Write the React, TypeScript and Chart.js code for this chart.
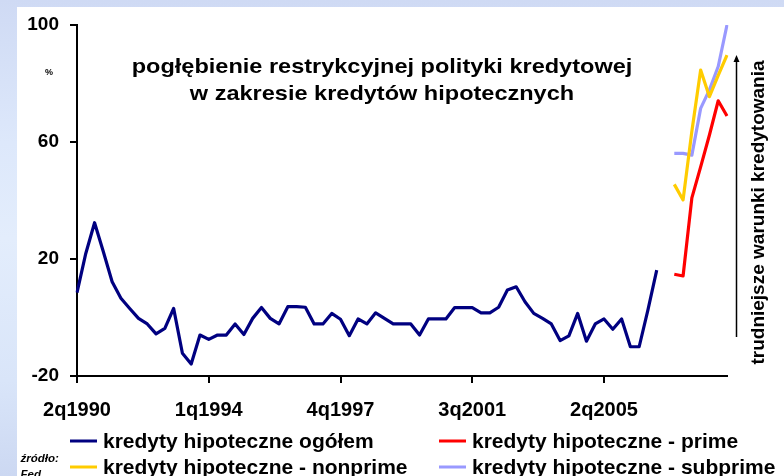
import React, { useEffect, useRef } from "react";
import { Chart, registerables } from "chart.js";

Chart.register(...registerables);

const FONT = "'Liberation Sans', Arial, Helvetica, sans-serif";

// Categories: quarters from 2q1990 to 4q2008
const FIRST_YEAR = 1990;
const FIRST_QUARTER = 2;
const QUARTER_COUNT = 75;
const quarters: string[] = [];
for (let i = 0; i < QUARTER_COUNT; i++) {
  const q0 = FIRST_QUARTER - 1 + i;
  quarters.push(`${(q0 % 4) + 1}q${FIRST_YEAR + Math.floor(q0 / 4)}`);
}

const xTickLabels = ["2q1990", "1q1994", "4q1997", "3q2001", "2q2005"];
const yTickValues = [-20, 20, 60, 100];

const seriesNames = [
  "kredyty hipoteczne ogółem",
  "kredyty hipoteczne - prime",
  "kredyty hipoteczne - nonprime",
  "kredyty hipoteczne - subprime",
];

// 2q1990 .. 4q2006
const ogolem = [
  8.5, 21.9, 32.4, 22.5, 12.2, 6.6, 3.1, -0.3, -2.2, -5.6,
  -3.7, 3.1, -12.2, -15.9, -6.0, -7.5, -6.0, -6.0, -2.2, -5.8,
  -0.3, 3.4, -0.3, -2.2, 3.7, 3.7, 3.5, -2.2, -2.2, 1.4,
  -0.6, -6.2, -0.5, -2.2, 1.6, -0.3, -2.2, -2.2, -2.2, -6.0,
  -0.5, -0.5, -0.5, 3.4, 3.4, 3.4, 1.6, 1.6, 3.5, 9.4,
  10.5, 5.4, 1.4, -0.3, -2.2, -7.9, -6.3, 1.4, -8.1, -2.2,
  -0.5, -4.0, -0.5, -10.0, -10.0, 2.6, 16.2,
];

// 2q2007 .. 4q2008
const SEGMENT_START = "2q2007";
const prime = [14.8, 14.2, 40.9, 51.5, 62.4, 74.1, 68.9];
const nonprime = [45.5, 40.2, 63.7, 84.6, 75.5, 82.8, 89.7];
const subprime = [56.1, 56.1, 55.5, 71.5, 77.8, 85.8, 100];

const titleLines = [
  "pogłębienie restrykcyjnej polityki kredytowej",
  "w zakresie kredytów hipotecznych",
];
const unitLabel = "%";
const arrowLabel = "trudniejsze warunki kredytowania";
const sourceLines = ["źródło:", "Fed"];

const colors = ["#000080", "#ff0000", "#ffcc00", "#9999ff"];

function placeFrom(startLabel: string, values: number[]): (number | null)[] {
  const start = quarters.indexOf(startLabel);
  return quarters.map((_, i) =>
    i >= start && i - start < values.length ? values[i - start] : null
  );
}

const overlayPlugin = {
  id: "overlay",
  afterDraw(chart: any) {
    const ctx: CanvasRenderingContext2D = chart.ctx;
    ctx.save();
    ctx.fillStyle = "#000";
    ctx.strokeStyle = "#000";

    // Title
    ctx.font = `bold 21px ${FONT}`;
    ctx.textAlign = "center";
    ctx.textBaseline = "alphabetic";
    titleLines.forEach((line, i) => {
      ctx.save();
      ctx.translate(382, 72.5 + i * 27.5);
      ctx.scale(1.12, 1);
      ctx.fillText(line, 0, 0);
      ctx.restore();
    });

    // unit
    ctx.font = `bold 9px ${FONT}`;
    ctx.textBaseline = "middle";
    ctx.fillText(unitLabel, 49, 73);

    // arrow
    ctx.lineWidth = 1.5;
    ctx.beginPath();
    ctx.moveTo(736.5, 337);
    ctx.lineTo(736.5, 60);
    ctx.stroke();
    ctx.beginPath();
    ctx.moveTo(736.5, 55);
    ctx.lineTo(733.5, 62);
    ctx.lineTo(739.5, 62);
    ctx.closePath();
    ctx.fill();

    // vertical text
    ctx.save();
    ctx.translate(763.5, 212.5);
    ctx.rotate(-Math.PI / 2);
    ctx.font = `bold 19px ${FONT}`;
    ctx.textAlign = "center";
    ctx.textBaseline = "alphabetic";
    ctx.fillText(arrowLabel, 0, 0);
    ctx.restore();

    // legend
    const slots = [
      { x: 70, y: 441 },
      { x: 439, y: 441 },
      { x: 70, y: 467 },
      { x: 439, y: 467 },
    ];
    ctx.font = `bold 21px ${FONT}`;
    ctx.textAlign = "left";
    ctx.textBaseline = "alphabetic";
    chart.data.datasets.forEach((ds: any, i: number) => {
      const s = slots[i];
      ctx.strokeStyle = ds.borderColor;
      ctx.lineWidth = 3;
      ctx.beginPath();
      ctx.moveTo(s.x, s.y);
      ctx.lineTo(s.x + 27, s.y);
      ctx.stroke();
      ctx.fillStyle = "#000";
      ctx.fillText(ds.label, s.x + 33, s.y + 7);
    });

    // source
    ctx.font = `italic bold 11.5px ${FONT}`;
    ctx.fillText(sourceLines[0], 20.5, 462);
    ctx.fillText(sourceLines[1], 20.5, 477.5);

    ctx.restore();
  },
};

export default function App() {
  const ref = useRef<HTMLCanvasElement>(null);

  useEffect(() => {
    if (!ref.current) return;
    const series = [
      placeFrom(quarters[0], ogolem),
      placeFrom(SEGMENT_START, prime),
      placeFrom(SEGMENT_START, nonprime),
      placeFrom(SEGMENT_START, subprime),
    ];
    const chart = new Chart(ref.current, {
      type: "line",
      data: {
        labels: quarters,
        datasets: series.map((data, i) => ({
          label: seriesNames[i],
          data,
          borderColor: colors[i],
          backgroundColor: colors[i],
          borderWidth: 3.2,
          pointRadius: 0,
          pointHoverRadius: 0,
          tension: 0,
          spanGaps: false,
          borderJoinStyle: "round" as const,
          fill: false,
        })),
      },
      options: {
        responsive: false,
        animation: false,
        devicePixelRatio: 1,
        layout: { padding: { left: 0, right: 57, top: 25, bottom: 0 } },
        plugins: {
          legend: { display: false },
          tooltip: { enabled: false },
          title: { display: false },
        },
        scales: {
          x: {
            type: "category",
            offset: false,
            grid: {
              display: true,
              drawOnChartArea: false,
              drawTicks: true,
              tickLength: 7,
              color: "#000",
              lineWidth: 2,
            },
            border: { display: true, color: "#000", width: 2 },
            ticks: {
              autoSkip: false,
              maxRotation: 0,
              minRotation: 0,
              color: "#000",
              padding: 15,
              font: { family: FONT, size: 20, weight: "bold" },
            },
            afterBuildTicks: (s: any) => {
              s.ticks = s.ticks.filter((t: any) =>
                xTickLabels.includes(quarters[t.value])
              );
            },
            afterFit: (s: any) => {
              s.height = 100;
            },
          },
          y: {
            min: yTickValues[0],
            max: yTickValues[yTickValues.length - 1],
            grid: {
              display: true,
              drawOnChartArea: false,
              drawTicks: true,
              tickLength: 7,
              color: "#000",
              lineWidth: 2,
            },
            border: { display: true, color: "#000", width: 2 },
            ticks: {
              color: "#000",
              padding: 11,
              font: { family: FONT, size: 19, weight: "bold" },
            },
            afterBuildTicks: (s: any) => {
              s.ticks = yTickValues.map((v) => ({ value: v }));
            },
            afterFit: (s: any) => {
              s.width = 77;
            },
          },
        },
      },
      plugins: [overlayPlugin],
    } as any);
    return () => chart.destroy();
  }, []);

  return (
    <div
      style={{
        position: "fixed",
        left: 0,
        top: 0,
        width: 784,
        height: 476,
        overflow: "hidden",
        background:
          "linear-gradient(to bottom, #cfdaf4 0%, #dde8fb 30%, #e3edfc 50%, #d9e5f9 80%, #ccd8f2 100%)",
      }}
    >
      <div
        style={{
          position: "absolute",
          left: 17,
          top: 7,
          right: 0,
          bottom: 0,
          background: "#ffffff",
        }}
      />
      <canvas
        ref={ref}
        width={784}
        height={476}
        style={{ position: "absolute", left: 0, top: 0, width: 784, height: 476 }}
      />
    </div>
  );
}
